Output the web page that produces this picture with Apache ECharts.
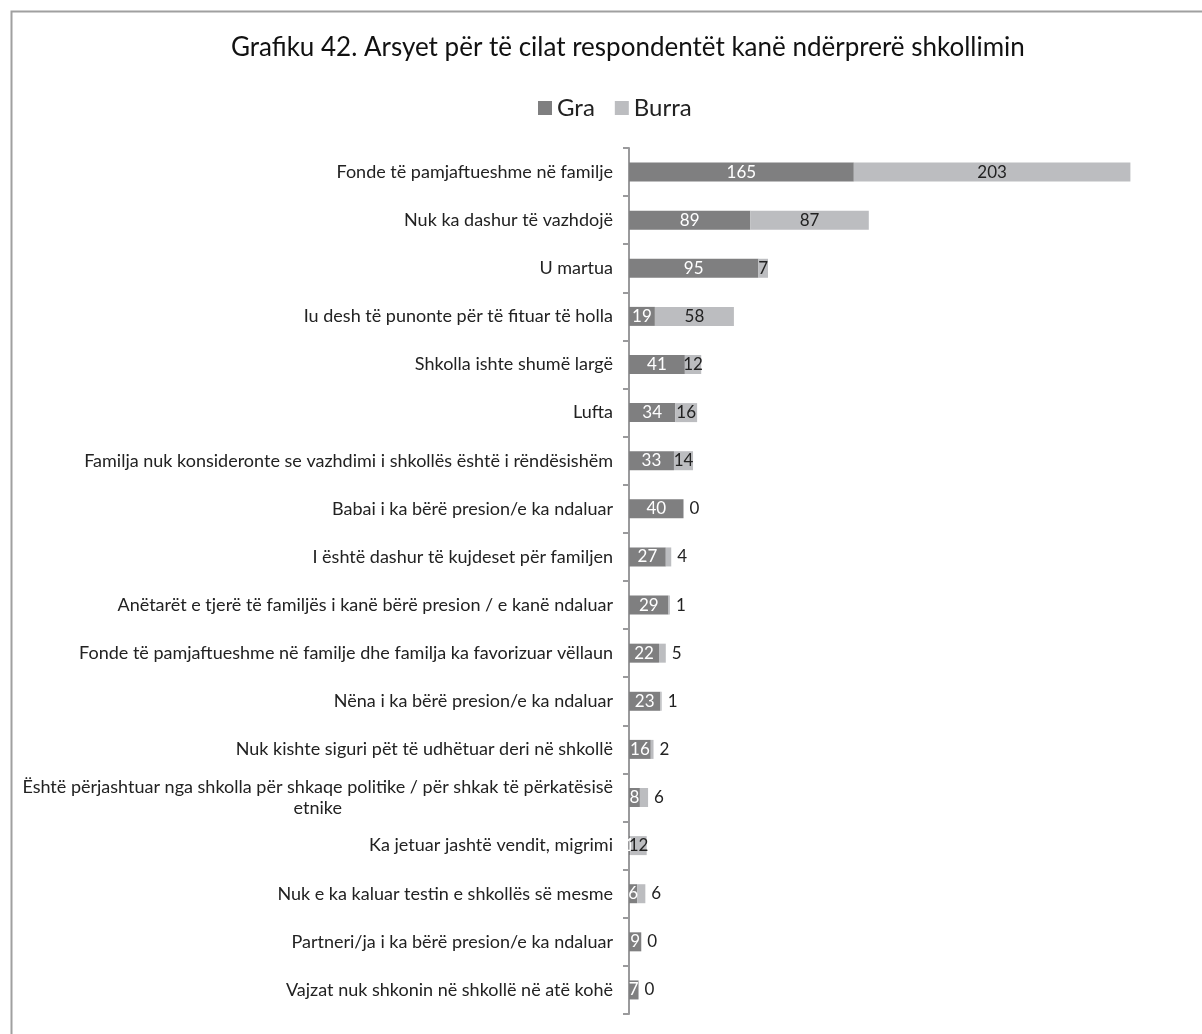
<!DOCTYPE html>
<html>
<head>
<meta charset="utf-8">
<script src="https://cdn.jsdelivr.net/npm/echarts@6/dist/echarts.min.js"></script>
<style>
  html, body { margin: 0; padding: 0; background: #fff; }
  #chart { width: 1202px; height: 1034px; }
</style>
</head>
<body>
<div id="chart"></div>
<script>
// kategorite (nga lart poshte)
const categories = [
  'Fonde të pamjaftueshme në familje',
  'Nuk ka dashur të vazhdojë',
  'U martua',
  'Iu desh të punonte për të fituar të holla',
  'Shkolla ishte shumë largë',
  'Lufta',
  'Familja nuk konsideronte se vazhdimi i shkollës është i rëndësishëm',
  'Babai i ka bërë presion/e ka ndaluar',
  'I është dashur të kujdeset për familjen',
  'Anëtarët e tjerë të familjës i kanë bërë presion / e kanë ndaluar',
  'Fonde të pamjaftueshme në familje dhe familja ka favorizuar vëllaun',
  'Nëna i ka bërë presion/e ka ndaluar',
  'Nuk kishte siguri pët të udhëtuar deri në shkollë',
  'Është përjashtuar nga shkolla për shkaqe politike / për shkak të përkatësisë\netnike',
  'Ka jetuar jashtë vendit, migrimi',
  'Nuk e ka kaluar testin e shkollës së mesme',
  'Partneri/ja i ka bërë presion/e ka ndaluar',
  'Vajzat nuk shkonin në shkollë në atë kohë'
]
const graValues   = [165, 89, 95, 19, 41, 34, 33, 40, 27, 29, 22, 23, 16, 8, 1, 6, 9, 7]
const burraValues = [203, 87, 7, 58, 12, 16, 14, 0, 4, 1, 5, 1, 2, 6, 12, 6, 0, 0]

const COLOR_GRA = '#7f7f80'
const COLOR_BURRA = '#bcbdc0'
const FONT = 'Lato, "Open Sans", sans-serif'

const myChart = echarts.init(document.getElementById('chart'))

// etiketat e vogla te Burra dalin jashte shiritit
const burraData = burraValues.map(v => ({
  value: v,
  label: v < 7
    ? { position: 'right', distance: 6 }
    : { position: 'inside' }
}))

const option = {
  backgroundColor: '#fff',
  animation: false,
  graphic: [{
    type: 'rect',
    left: 9, top: 9,
    shape: { width: 1220, height: 1060 },
    style: { fill: 'none', stroke: '#a0a0a0', lineWidth: 2 }
  }],
  title: {
    text: 'Grafiku 42. Arsyet për të cilat respondentët kanë ndërprerë shkollimin',
    left: 226,
    top: 30,
    textStyle: { fontFamily: FONT, fontSize: 26, fontWeight: 'normal', color: '#111' }
  },
  legend: {
    data: ['Gra', 'Burra'],
    top: 91,
    left: 533,
    icon: 'rect',
    itemWidth: 14,
    itemHeight: 14,
    itemGap: 20,
    textStyle: { fontFamily: FONT, fontSize: 24, color: '#222' }
  },
  grid: { left: 629, right: 28, top: 148, bottom: 20, containLabel: false },
  xAxis: {
    type: 'value',
    min: 0,
    max: 400,
    show: false
  },
  yAxis: {
    type: 'category',
    data: categories,
    inverse: true,
    axisLine: { lineStyle: { color: '#9a9a9c', width: 2 } },
    axisTick: { show: true, length: 6, lineStyle: { color: '#9a9a9c', width: 2 } },
    axisLabel: {
      margin: 16,
      fontFamily: FONT,
      fontSize: 18,
      color: '#222',
      formatter: v => v.indexOf('\n') >= 0
        ? v.split('\n').map(s => '{c|' + s + '}').join('\n')
        : v,
      rich: {
        c: { align: 'center', fontFamily: FONT, fontSize: 18, color: '#222', lineHeight: 21 }
      }
    }
  },
  series: [
    {
      name: 'Gra',
      type: 'bar',
      stack: 'total',
      barWidth: 19,
      data: graValues,
      itemStyle: { color: COLOR_GRA },
      label: {
        show: true,
        position: 'inside',
        color: '#fff',
        fontFamily: FONT,
        fontSize: 17
      }
    },
    {
      name: 'Burra',
      type: 'bar',
      stack: 'total',
      barWidth: 19,
      data: burraData,
      itemStyle: { color: COLOR_BURRA },
      label: {
        show: true,
        color: '#222',
        fontFamily: FONT,
        fontSize: 17
      }
    }
  ]
}

myChart.setOption(option)
</script>
</body>
</html>
